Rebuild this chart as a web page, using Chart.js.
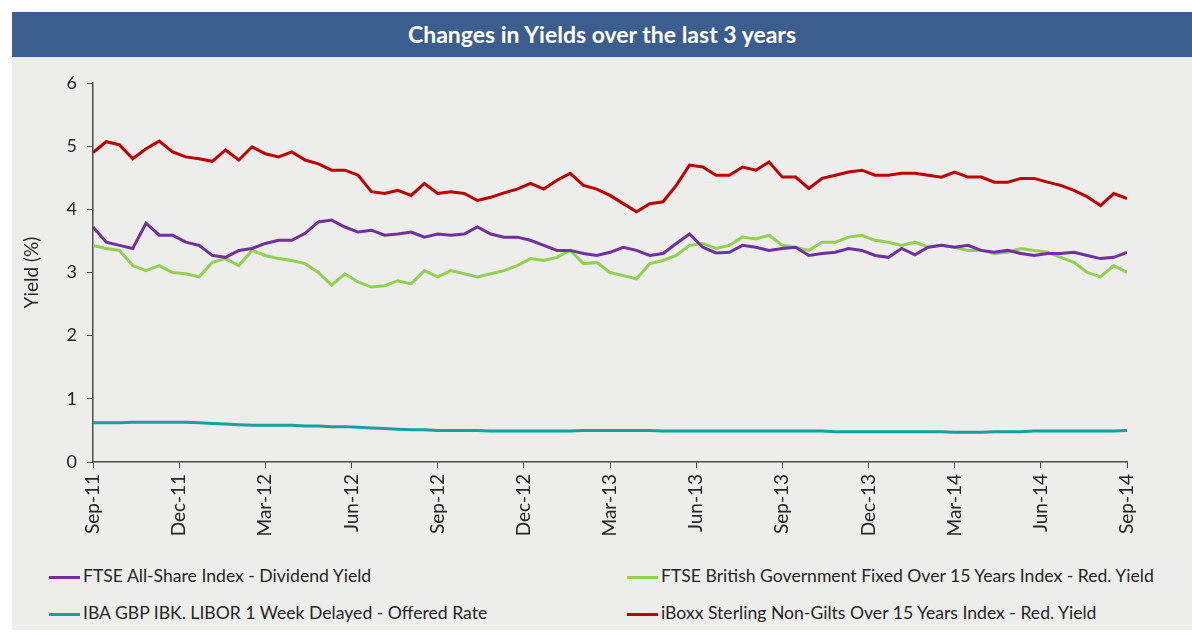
<!DOCTYPE html>
<html>
<head>
<meta charset="utf-8">
<title>Changes in Yields over the last 3 years</title>
<script src="https://cdn.jsdelivr.net/npm/chart.js@4.4.1/dist/chart.umd.min.js"></script>
<style>
  body { margin: 0; background: #fff; font-family: Lato, "Open Sans", sans-serif; }
  #title {
    position: absolute; left: 12px; top: 12px; width: 1180px; height: 45px;
    background: #3B5E8F; color: #fff; font: bold 23px Lato, sans-serif;
    line-height: 45px; text-align: center;
  }
  #panel { position: absolute; left: 12px; top: 57px; width: 1180px; height: 573px; background: #EDEDEB; }
  #chartBox { position: absolute; left: 0; top: 0; width: 1180px; height: 497px; }
  .leg { position: absolute; font: 17.6px Lato, sans-serif; color: #262626; white-space: nowrap; }
  .leg span.sw { display: inline-block; width: 31px; height: 3px; vertical-align: middle; margin-right: 3px; }
</style>
</head>
<body>
<div id="title">Changes in Yields over the last 3 years</div>
<div id="panel">
  <div id="chartBox"><canvas id="yieldChart"></canvas></div>
  <div id="legend"></div>
</div>
<script>
// x positions in weeks from Sep-11 (fortnightly readings)
const weeks = [0, 2, 4, 6, 8, 10, 12, 14, 16, 18, 20, 22, 24, 26, 28, 30, 32, 34, 36, 38,
  40, 42, 44, 46, 48, 50, 52, 54, 56, 58, 60, 62, 64, 66, 68, 70, 72, 74, 76, 78,
  80, 82, 84, 86, 88, 90, 92, 94, 96, 98, 100, 102, 104, 106, 108, 110, 112, 114, 116, 118,
  120, 122, 124, 126, 128, 130, 132, 134, 136, 138, 140, 142, 144, 146, 148, 150, 152, 154, 156];

const tickLabels = ["Sep-11", "Dec-11", "Mar-12", "Jun-12", "Sep-12", "Dec-12", "Mar-13",
  "Jun-13", "Sep-13", "Dec-13", "Mar-14", "Jun-14", "Sep-14"];

const ftseDividend = [3.72, 3.48, 3.43, 3.38, 3.78, 3.59, 3.59, 3.48, 3.43, 3.27, 3.24, 3.35, 3.38, 3.46, 3.51, 3.51, 3.62, 3.80, 3.83, 3.72,
  3.64, 3.67, 3.59, 3.61, 3.64, 3.56, 3.61, 3.59, 3.61, 3.72, 3.61, 3.56, 3.56, 3.51, 3.43, 3.35, 3.35, 3.30, 3.27, 3.32,
  3.40, 3.35, 3.27, 3.30, 3.46, 3.61, 3.40, 3.31, 3.32, 3.43, 3.40, 3.35, 3.38, 3.40, 3.27, 3.30, 3.32, 3.38, 3.35, 3.27,
  3.24, 3.38, 3.28, 3.40, 3.43, 3.40, 3.43, 3.35, 3.32, 3.35, 3.30, 3.27, 3.30, 3.30, 3.32, 3.27, 3.22, 3.24, 3.32];

const giltYield = [3.43, 3.38, 3.35, 3.11, 3.03, 3.11, 3.00, 2.98, 2.93, 3.16, 3.22, 3.11, 3.35, 3.27, 3.22, 3.19, 3.14, 3.00, 2.80, 2.98,
  2.85, 2.77, 2.79, 2.87, 2.82, 3.03, 2.93, 3.03, 2.98, 2.93, 2.98, 3.03, 3.11, 3.22, 3.19, 3.24, 3.35, 3.14, 3.16, 3.00,
  2.95, 2.90, 3.14, 3.19, 3.27, 3.43, 3.46, 3.38, 3.43, 3.56, 3.53, 3.59, 3.43, 3.40, 3.35, 3.48, 3.48, 3.56, 3.59, 3.51,
  3.48, 3.43, 3.48, 3.40, 3.43, 3.40, 3.35, 3.35, 3.30, 3.32, 3.38, 3.35, 3.32, 3.24, 3.16, 3.00, 2.93, 3.11, 3.00];

const liborRate = [0.62, 0.62, 0.62, 0.63, 0.63, 0.63, 0.63, 0.63, 0.62, 0.61, 0.60, 0.59, 0.58, 0.58, 0.58, 0.58, 0.57, 0.57, 0.56, 0.56,
  0.55, 0.54, 0.53, 0.52, 0.51, 0.51, 0.50, 0.50, 0.50, 0.50, 0.49, 0.49, 0.49, 0.49, 0.49, 0.49, 0.49, 0.50, 0.50, 0.50,
  0.50, 0.50, 0.50, 0.49, 0.49, 0.49, 0.49, 0.49, 0.49, 0.49, 0.49, 0.49, 0.49, 0.49, 0.49, 0.49, 0.48, 0.48, 0.48, 0.48,
  0.48, 0.48, 0.48, 0.48, 0.48, 0.47, 0.47, 0.47, 0.48, 0.48, 0.48, 0.49, 0.49, 0.49, 0.49, 0.49, 0.49, 0.49, 0.50];

const iboxxYield = [4.90, 5.07, 5.02, 4.80, 4.96, 5.08, 4.91, 4.83, 4.80, 4.76, 4.94, 4.78, 4.99, 4.88, 4.83, 4.91, 4.78, 4.72, 4.62, 4.62,
  4.54, 4.28, 4.25, 4.30, 4.22, 4.41, 4.25, 4.28, 4.25, 4.14, 4.19, 4.26, 4.32, 4.41, 4.32, 4.46, 4.57, 4.38, 4.32, 4.22,
  4.09, 3.96, 4.09, 4.12, 4.38, 4.70, 4.67, 4.54, 4.54, 4.67, 4.62, 4.75, 4.51, 4.51, 4.33, 4.49, 4.54, 4.59, 4.62, 4.54,
  4.54, 4.57, 4.57, 4.54, 4.51, 4.59, 4.51, 4.51, 4.43, 4.43, 4.49, 4.49, 4.43, 4.38, 4.30, 4.20, 4.06, 4.25, 4.17];

const seriesNames = [
  "FTSE All-Share Index - Dividend Yield",
  "FTSE British Government Fixed Over 15 Years Index - Red. Yield",
  "IBA GBP IBK. LIBOR 1 Week Delayed - Offered Rate",
  "iBoxx Sterling Non-Gilts Over 15 Years Index - Red. Yield"
];
const seriesColors = ["#7030A0", "#92D050", "#1A9E9E", "#C00000"];
const seriesValues = [ftseDividend, giltYield, liborRate, iboxxYield];

document.addEventListener("DOMContentLoaded", () => {
  const ctx = document.getElementById("yieldChart").getContext("2d");
  const textColor = "#262626";
  const axisColor = "#4d4d4d";

  const chart = new Chart(ctx, {
    type: "line",
    data: {
      datasets: seriesNames.map((name, i) => ({
        label: name,
        data: seriesValues[i].map((v, j) => ({ x: weeks[j], y: v })),
        borderColor: seriesColors[i],
        backgroundColor: seriesColors[i],
        borderWidth: 3,
        pointRadius: 0,
        tension: 0,
        fill: false
      }))
    },
    options: {
      responsive: true,
      maintainAspectRatio: false,
      animation: false,
      layout: { padding: { top: 26, right: 65, left: 8, bottom: 0 } },
      plugins: {
        legend: { display: false },
        tooltip: { enabled: false }
      },
      scales: {
        x: {
          type: "linear",
          min: 0,
          max: 156,
          afterFit: (scale) => { scale.height = 92; },
          afterBuildTicks: (scale) => {
            scale.ticks = tickLabels.map((_, i) => ({ value: i * 13 }));
          },
          ticks: {
            autoSkip: false,
            minRotation: 90,
            maxRotation: 90,
            padding: 6,
            color: textColor,
            font: { family: "Lato", size: 19 },
            callback: (value) => tickLabels[Math.round(value / 13)]
          },
          grid: { drawOnChartArea: false, drawTicks: true, tickLength: 6, color: axisColor },
          border: { display: true, color: axisColor, width: 1.5 }
        },
        y: {
          min: 0,
          max: 6,
          afterFit: (scale) => { scale.width = 73; },
          ticks: {
            stepSize: 1,
            padding: 10,
            color: textColor,
            font: { family: "Lato", size: 18 }
          },
          title: {
            display: true,
            text: "Yield (%)",
            color: textColor,
            font: { family: "Lato", size: 19 },
            padding: { top: 0, bottom: 0 }
          },
          grid: { drawOnChartArea: false, drawTicks: true, tickLength: 6, color: axisColor },
          border: { display: true, color: axisColor, width: 1.5 }
        }
      }
    }
  });

  // legend in two columns, built from the chart's datasets
  const legend = document.getElementById("legend");
  const colX = [37, 615];
  const rowY = [508, 545];
  chart.data.datasets.forEach((ds, i) => {
    const item = document.createElement("div");
    item.className = "leg";
    item.style.left = colX[i % 2] + "px";
    item.style.top = rowY[Math.floor(i / 2)] + "px";
    item.innerHTML = '<span class="sw" style="background:' + ds.borderColor + '"></span>' + ds.label;
    legend.appendChild(item);
  });
});
</script>
</body>
</html>
